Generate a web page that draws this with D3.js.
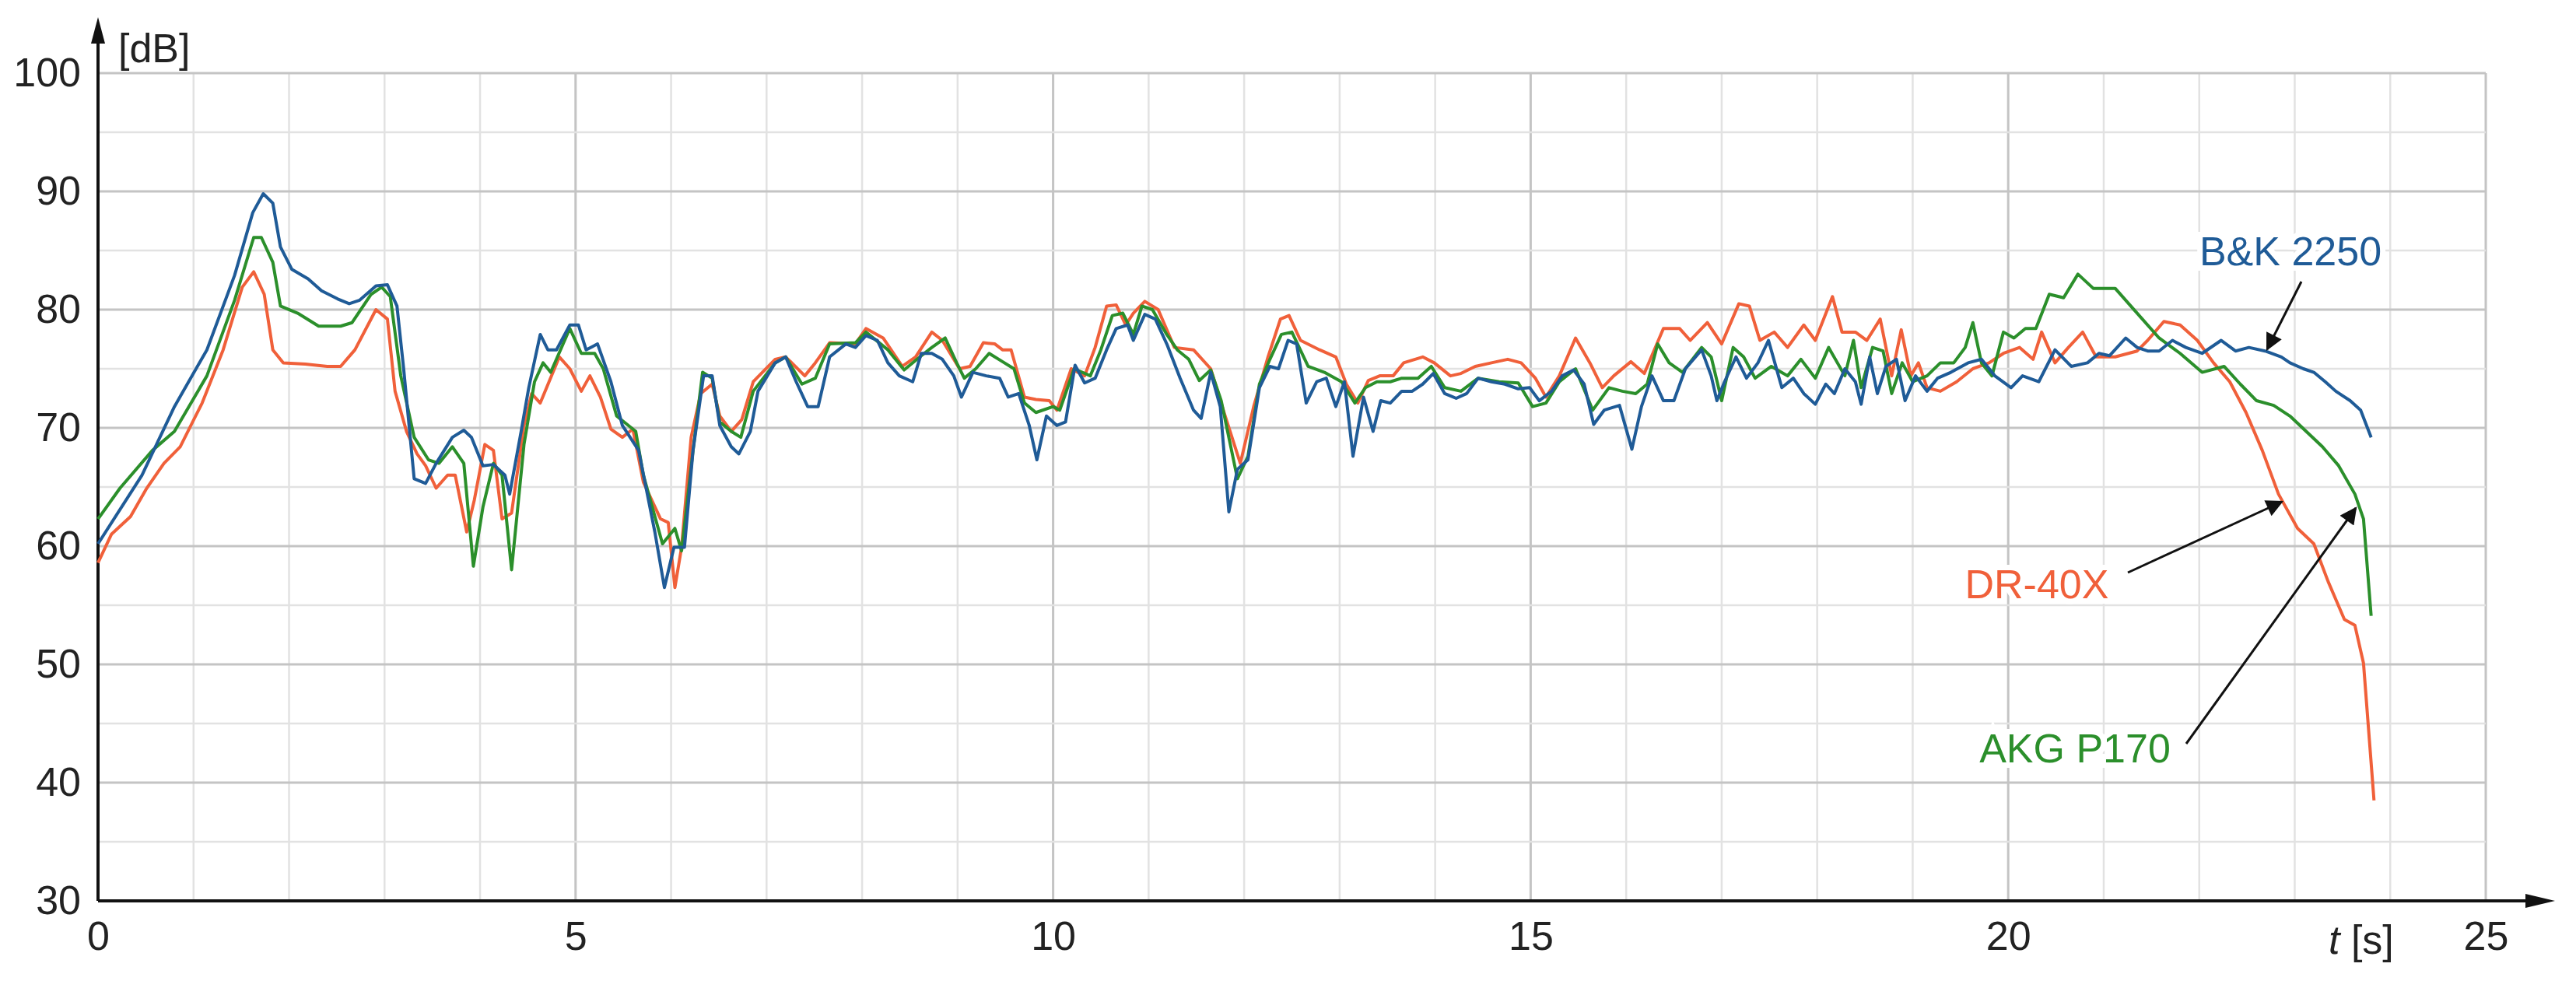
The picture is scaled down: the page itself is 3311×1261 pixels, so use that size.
<!DOCTYPE html><html><head><meta charset="utf-8">
<script src="https://cdn.jsdelivr.net/npm/d3@7"></script>
<style>body{margin:0;background:#fff}</style></head><body>
<svg id="c" width="3311" height="1261"></svg>
<script>
const xTicks=[0,5,10,15,20,25];
const yTicks=[30,40,50,60,70,80,90,100];
const seriesNames=["B&K 2250","DR-40X","AKG P170"];
const bk=[[0,60.2],[0.46,66],[0.8,71.8],[1.14,76.6],[1.43,82.9],[1.62,88.2],[1.73,89.8],[1.83,89],[1.91,85.3],[2.03,83.4],[2.2,82.6],[2.34,81.6],[2.51,80.9],[2.63,80.5],[2.74,80.8],[2.91,82],[3.03,82.1],[3.13,80.3],[3.2,75],[3.31,65.7],[3.43,65.3],[3.54,67],[3.71,69.2],[3.83,69.8],[3.91,69.2],[4.03,66.8],[4.14,66.9],[4.26,66],[4.31,64.4],[4.43,69.7],[4.51,73.4],[4.63,77.9],[4.71,76.6],[4.8,76.6],[4.94,78.7],[5.03,78.7],[5.11,76.6],[5.23,77.1],[5.37,73.9],[5.49,70.2],[5.66,68.1],[5.83,61.2],[5.93,56.5],[6.03,59.9],[6.14,59.9],[6.23,68.1],[6.34,74.4],[6.43,74.4],[6.51,70.2],[6.63,68.4],[6.71,67.8],[6.83,69.7],[6.91,73.1],[7.09,75.5],[7.2,76],[7.31,73.9],[7.43,71.8],[7.54,71.8],[7.66,76],[7.83,77.1],
[7.93,76.8],[8.04,77.8],[8.16,77.4],[8.27,75.5],[8.39,74.4],[8.53,73.9],[8.62,76.3],[8.73,76.3],[8.84,75.8],[8.96,74.4],[9.04,72.6],[9.16,74.7],[9.3,74.4],[9.44,74.2],[9.53,72.6],[9.64,72.9],[9.75,70.2],[9.83,67.3],[9.93,71],[10.04,70.2],[10.13,70.5],[10.23,75.3],[10.33,73.8],[10.44,74.2],[10.56,76.6],[10.66,78.4],[10.78,78.7],[10.84,77.4],[10.96,79.6],[11.07,79.2],[11.19,77.1],[11.33,74.2],[11.47,71.5],[11.55,70.8],[11.65,74.7],[11.75,71.8],[11.84,62.9],[11.93,66.5],[12.04,67.3],[12.16,73.4],[12.27,75.2],[12.36,75],[12.46,77.4],[12.55,77.1],[12.65,72.1],[12.76,73.9],[12.86,74.2],[12.96,71.8],[13.05,73.9],[13.14,67.6],[13.25,72.6],[13.35,69.7],[13.43,72.3],[13.53,72.1],[13.65,73.1],[13.76,73.1],[13.87,73.7],[13.98,74.6],[14.1,72.9],[14.22,72.5],[14.33,72.9],[14.45,74.2],[14.59,73.9],[14.73,73.7],[14.87,73.3],[14.99,73.4],[15.09,72.3],[15.22,73.1],[15.33,74.4],[15.45,74.9],[15.56,73.7],[15.66,70.3],[15.77,71.5],[15.93,71.9],[16.06,68.2],[16.16,71.8],[16.27,74.4],[16.39,72.3],[16.5,72.3],[16.62,75],[16.79,76.6],
[16.89,74.4],[16.95,72.3],[17.03,73.9],[17.15,76],[17.26,74.2],[17.38,75.5],[17.49,77.4],[17.63,73.4],[17.75,74.2],[17.86,72.9],[17.98,72],[18.09,73.7],[18.18,72.9],[18.29,75],[18.4,73.9],[18.46,72],[18.55,76],[18.63,72.9],[18.72,75.2],[18.83,75.8],[18.92,72.3],[19.03,74.4],[19.15,73.1],[19.26,74.2],[19.4,74.7],[19.58,75.5],[19.72,75.8],[19.86,74.4],[20.03,73.4],[20.15,74.4],[20.32,73.9],[20.49,76.6],[20.66,75.2],[20.83,75.5],[20.95,76.3],[21.06,76.1],[21.23,77.6],[21.35,76.8],[21.46,76.5],[21.58,76.5],[21.72,77.4],[21.86,76.8],[22.03,76.3],[22.23,77.4],[22.38,76.5],[22.52,76.8],[22.69,76.5],[22.86,76],[22.95,75.5],[23.09,75],[23.2,74.7],[23.32,73.9],[23.43,73.1],[23.58,72.3],[23.69,71.5],[23.8,69.2]];
const akg=[[0,62.3],[0.23,64.9],[0.57,68.1],[0.8,69.7],[1.14,74.4],[1.43,80.8],[1.63,86.1],[1.71,86.1],[1.83,84],[1.91,80.3],[2.09,79.7],[2.31,78.6],[2.54,78.6],[2.66,78.9],[2.86,81.3],[2.97,81.9],[3.06,81.1],[3.17,74.4],[3.31,69.2],[3.46,67.3],[3.57,67],[3.71,68.4],[3.83,67],[3.93,58.3],[4.03,63.3],[4.14,67],[4.23,66],[4.33,58],[4.46,68.6],[4.57,73.9],[4.66,75.5],[4.74,74.7],[4.94,78.4],[5.06,76.3],[5.2,76.3],[5.29,75],[5.43,71],[5.63,69.7],[5.71,66],[5.91,60.2],[6.04,61.5],[6.11,59.6],[6.23,68.1],[6.33,74.7],[6.43,74.2],[6.51,70.5],[6.63,69.7],[6.73,69.2],[6.86,73.1],[7.09,75.5],[7.2,76],[7.37,73.7],[7.51,74.2],[7.66,77.1],
[7.93,77.2],[8.04,78.1],[8.27,76.6],[8.44,74.9],[8.62,76.1],[8.73,76.8],[8.87,77.6],[8.99,75.5],[9.07,74.2],[9.19,75],[9.33,76.3],[9.47,75.6],[9.59,75],[9.7,72.1],[9.82,71.3],[10,71.8],[10.07,71.5],[10.22,75],[10.39,74.4],[10.5,76.6],[10.62,79.5],[10.73,79.7],[10.84,77.9],[10.93,80.3],[11.04,80],[11.19,77.9],[11.3,76.6],[11.42,75.8],[11.53,74],[11.65,74.9],[11.76,72.3],[11.93,65.7],[12.04,67.6],[12.16,73.7],[12.27,75.8],[12.39,77.9],[12.5,78.1],[12.67,75.2],[12.84,74.7],[13.02,73.9],[13.16,72.1],[13.27,73.4],[13.39,73.9],[13.53,73.9],[13.65,74.2],[13.82,74.2],[13.96,75.2],[14.1,73.4],[14.27,73.1],[14.45,74.2],[14.67,73.9],[14.87,73.8],[15.02,71.8],[15.16,72.1],[15.3,73.9],[15.47,75],[15.65,71.5],[15.82,73.4],[15.96,73.1],[16.1,72.9],[16.22,73.7],[16.33,77.1],[16.45,75.5],[16.59,74.7],[16.79,76.8],
[16.89,76],[17,72.3],[17.12,76.8],[17.23,76],[17.35,74.2],[17.52,75.2],[17.69,74.4],[17.83,75.8],[17.98,74.2],[18.12,76.8],[18.29,74.4],[18.38,77.4],[18.46,73.4],[18.58,76.8],[18.69,76.5],[18.78,72.9],[18.89,75.5],[19,73.9],[19.15,74.4],[19.29,75.5],[19.43,75.5],[19.55,76.8],[19.63,78.9],[19.72,75.5],[19.83,74.4],[19.95,78.1],[20.06,77.6],[20.18,78.4],[20.29,78.4],[20.43,81.3],[20.58,81],[20.73,83],[20.89,81.8],[21.12,81.8],[21.35,79.7],[21.58,77.6],[21.8,76.3],[22.03,74.7],[22.26,75.2],[22.43,73.7],[22.6,72.3],[22.78,71.9],[22.95,71],[23.12,69.7],[23.29,68.4],[23.46,66.8],[23.63,64.4],[23.72,62.3],[23.8,54.1]];
const dr=[[0,58.6],[0.14,61],[0.34,62.5],[0.51,64.9],[0.69,67],[0.86,68.4],[1.09,72.1],[1.31,76.6],[1.51,81.9],[1.63,83.2],[1.74,81.3],[1.83,76.6],[1.94,75.5],[2.17,75.4],[2.4,75.2],[2.54,75.2],[2.69,76.6],[2.91,80],[3.03,79.2],[3.11,73.1],[3.23,69.7],[3.34,67.8],[3.43,66.8],[3.54,64.9],[3.66,66],[3.74,66],[3.86,61.2],[3.94,63.9],[4.05,68.6],[4.14,68.1],[4.23,62.3],[4.33,62.8],[4.46,70.2],[4.54,72.9],[4.63,72.1],[4.83,76],[4.94,75],[5.06,73.1],[5.15,74.4],[5.26,72.6],[5.37,69.9],[5.49,69.2],[5.6,69.9],[5.71,65.4],[5.89,62.3],[5.97,62],[6.04,56.5],[6.11,59.9],[6.21,69.2],[6.31,72.9],[6.43,73.7],[6.51,71],[6.63,69.7],[6.74,70.7],[6.86,73.9],[7.09,75.8],[7.2,76],[7.4,74.4],[7.51,75.5],[7.66,77.2],
[7.93,77.1],[8.04,78.4],[8.22,77.6],[8.42,75.2],[8.56,76],[8.73,78.1],[8.84,77.4],[9.02,75],[9.13,75.2],[9.27,77.2],[9.39,77.1],[9.47,76.6],[9.56,76.6],[9.7,72.6],[9.82,72.4],[9.96,72.3],[10.04,71.5],[10.19,75],[10.33,74.4],[10.44,76.8],[10.56,80.3],[10.66,80.4],[10.76,78.7],[10.84,79.7],[10.96,80.7],[11.1,80],[11.27,76.8],[11.47,76.6],[11.65,75],[11.79,71.3],[11.96,67],[12.1,71.8],[12.25,76],[12.38,79.2],[12.47,79.5],[12.59,77.4],[12.79,76.6],[12.96,76],[13.07,73.7],[13.19,72.1],[13.3,74],[13.42,74.4],[13.56,74.4],[13.67,75.5],[13.87,76],[13.99,75.5],[14.16,74.4],[14.27,74.6],[14.42,75.2],[14.59,75.5],[14.76,75.8],[14.9,75.5],[15.05,74.2],[15.16,72.6],[15.3,74.4],[15.47,77.6],[15.62,75.5],[15.75,73.4],[15.87,74.4],[16.05,75.6],[16.19,74.6],[16.39,78.4],[16.56,78.4],[16.67,77.4],[16.85,78.9],
[17,77.1],[17.18,80.5],[17.29,80.3],[17.4,77.4],[17.55,78.1],[17.69,76.8],[17.86,78.7],[17.98,77.4],[18.16,81.1],[18.26,78.1],[18.4,78.1],[18.52,77.4],[18.66,79.2],[18.78,74.4],[18.88,78.3],[18.98,74.4],[19.06,75.5],[19.15,73.4],[19.29,73.1],[19.46,73.9],[19.63,75],[19.8,75.5],[19.95,76.3],[20.12,76.8],[20.26,75.8],[20.35,78.1],[20.49,75.5],[20.63,76.8],[20.78,78.1],[20.92,76],[21.12,76],[21.35,76.5],[21.46,77.4],[21.63,79],[21.8,78.7],[21.98,77.4],[22.15,75.5],[22.32,73.9],[22.49,71.3],[22.66,68.1],[22.83,64.4],[23.03,61.5],[23.2,60.2],[23.35,57],[23.52,53.8],[23.63,53.3],[23.72,50.1],[23.83,38.5]];

const svg=d3.select("#c");
const x=d3.scaleLinear().domain([0,25]).range([126,3195]);
const y=d3.scaleLinear().domain([30,100]).range([1158,94]);
const F="Liberation Sans, Arial, sans-serif";
const FS=52;
const g=svg.append("g");
d3.range(0,26,1).forEach(v=>{g.append("line").attr("x1",x(v)).attr("x2",x(v)).attr("y1",y(30)).attr("y2",y(100)).attr("stroke",v%5===0?"#c4c4c4":"#e2e2e2").attr("stroke-width",v%5===0?3:2.5);});
d3.range(30,101,5).forEach(v=>{g.append("line").attr("x1",x(0)).attr("x2",x(25)).attr("y1",y(v)).attr("y2",y(v)).attr("stroke",v%10===0?"#c4c4c4":"#e2e2e2").attr("stroke-width",v%10===0?3:2.5);});
svg.append("defs");
const ya=svg.append("g").attr("transform",`translate(${x(0)},0)`).call(d3.axisLeft(y).tickValues(yTicks).tickSize(0).tickPadding(22));
ya.select(".domain").remove();
ya.selectAll("text").attr("font-family",F).attr("font-size",FS).attr("fill","#222");
const xa=svg.append("g").attr("transform",`translate(0,${y(30)})`).call(d3.axisBottom(x).tickValues(xTicks).tickSize(0).tickPadding(26));
xa.select(".domain").remove();
xa.selectAll("text").attr("font-family",F).attr("font-size",FS).attr("fill","#222");
svg.append("line").attr("x1",x(0)).attr("x2",x(0)).attr("y1",y(30)).attr("y2",40).attr("stroke","#111").attr("stroke-width",4);
svg.append("path").attr("d",`M${x(0)-9},56L${x(0)},22L${x(0)+9},56z`).attr("fill","#111");
svg.append("line").attr("x1",x(0)).attr("x2",3260).attr("y1",y(30)).attr("y2",y(30)).attr("stroke","#111").attr("stroke-width",4);
svg.append("path").attr("d",`M3246,${y(30)-9}L3284,${y(30)}L3246,${y(30)+9}z`).attr("fill","#111");
svg.append("text").attr("x",152).attr("y",80).attr("font-family",F).attr("font-size",FS).attr("fill","#222").text("[dB]");
const ts=svg.append("text").attr("x",2993).attr("y",1226).attr("font-family",F).attr("font-size",FS).attr("fill","#222");
ts.append("tspan").attr("font-style","italic").text("t");ts.append("tspan").text(" [s]");
const line=d3.line().x(d=>x(d[0])).y(d=>y(d[1]));
const cols={bk:"#1f5b97",dr:"#f0603a",akg:"#2b8f2b"};
[[dr,cols.dr],[akg,cols.akg],[bk,cols.bk]].forEach(([d,c])=>svg.append("path").datum(d).attr("d",line).attr("fill","none").attr("stroke",c).attr("stroke-width",4).attr("stroke-linejoin","round"));
svg.select("defs").append("marker").attr("id","ar2").attr("viewBox","0 0 10 10").attr("refX",9).attr("refY",5).attr("markerWidth",30).attr("markerHeight",22).attr("markerUnits","userSpaceOnUse").attr("orient","auto").append("path").attr("d","M0,0L10,5L0,10z").attr("fill","#111");
function arrow(x1,y1,x2,y2){svg.append("line").attr("x1",x1).attr("y1",y1).attr("x2",x2).attr("y2",y2).attr("stroke","#111").attr("stroke-width",3).attr("marker-end","url(#ar2)");}
function label(t,cx,cy,c){svg.append("text").attr("x",cx).attr("y",cy+19).attr("text-anchor","middle").attr("font-family",F).attr("font-size",FS).attr("fill",c).attr("stroke","#fff").attr("stroke-width",14).attr("paint-order","stroke").text(t);}
arrow(2958,362,2914,449);arrow(2735,736,2933,645);arrow(2810,956,3028,653);
label(seriesNames[0],2944,322,cols.bk);label(seriesNames[1],2618,750,cols.dr);label(seriesNames[2],2667,961,cols.akg);
</script></body></html>
